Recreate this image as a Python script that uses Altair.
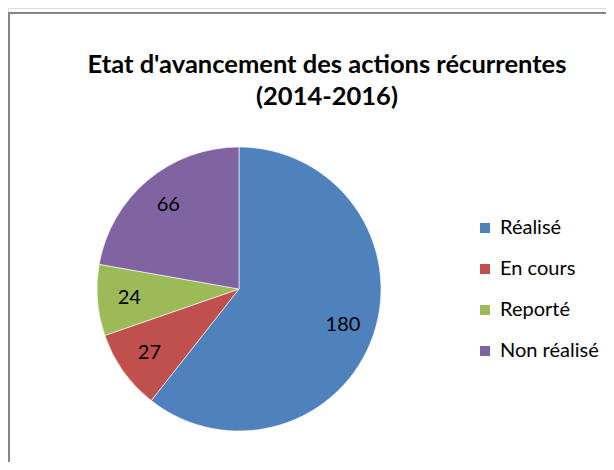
import altair as alt
import pandas as pd

categories = ["Réalisé", "En cours", "Reporté", "Non réalisé"]
values = [180, 27, 24, 66]
colors = ["#4F81BD", "#C0504D", "#9BBB59", "#8064A2"]
title_lines = ["Etat d'avancement des actions récurrentes", "(2014-2016)"]

df = pd.DataFrame({"cat": categories, "value": values, "idx": list(range(len(categories)))})

W, H = 598, 454
CX, CY, R = 231, 281, 142
FONT = "Lato"

theta = alt.Theta("value:Q", stack=True)
color = alt.Color(
    "cat:N",
    scale=alt.Scale(domain=categories, range=colors),
    sort=categories,
    legend=alt.Legend(
        title=None,
        orient="none",
        legendX=467,
        legendY=210,
        symbolType="square",
        symbolSize=100,
        symbolStrokeWidth=0,
        labelFont=FONT,
        labelFontSize=20,
        labelColor="#000000",
        rowPadding=21,
        labelOffset=5,
    ),
)

base = alt.Chart(df)

pie = base.mark_arc(stroke="#ffffff", strokeWidth=0.6).encode(
    theta=theta,
    color=color,
    order=alt.Order("idx:Q"),
    x=alt.value(CX),
    y=alt.value(CY),
    radius=alt.value(R),
)

labels = base.mark_text(font=FONT, fontSize=20, color="#000000").encode(
    theta=theta,
    order=alt.Order("idx:Q"),
    text=alt.Text("value:Q"),
    x=alt.value(CX),
    y=alt.value(CY),
    radius=alt.value(110),
)

tdf = pd.DataFrame({"t": title_lines, "i": [0, 1]})
title = alt.Chart(tdf).mark_text(
    font=FONT, fontSize=25.5, fontWeight="bold", color="#000000", baseline="alphabetic"
).encode(
    text="t:N",
    x=alt.value(319),
    y=alt.Y("i:Q", scale=alt.Scale(domain=[0, 1], range=[65, 97]), axis=None),
)

border_left = base.mark_rule(color="#868686", strokeWidth=2).encode(
    x=alt.value(1), y=alt.value(4), y2=alt.value(H + 10)
)
border_top = base.mark_rule(color="#868686", strokeWidth=2).encode(
    x=alt.value(0), x2=alt.value(W + 10), y=alt.value(5)
)

chart = (
    alt.layer(pie, labels, title, border_left, border_top)
    .resolve_scale(y="independent")
    .properties(width=W, height=H, autosize=alt.AutoSizeParams(type="none"), padding=0)
    .configure_view(stroke=None)
    .configure(background="#ffffff")
)

chart.save("out.html", embed_options={"renderer": "svg", "actions": False})
